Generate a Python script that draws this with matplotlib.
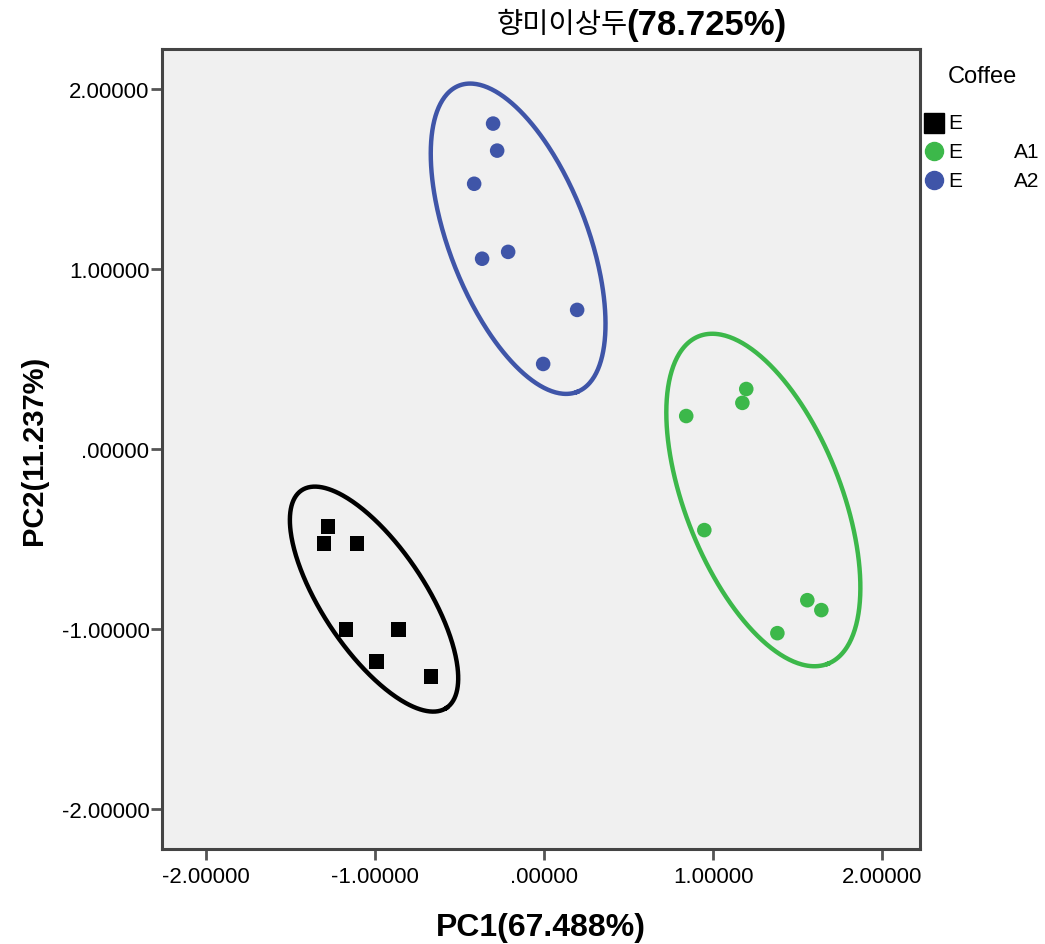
import matplotlib
matplotlib.use("Agg")
import numpy as np
import matplotlib.pyplot as plt
from matplotlib.lines import Line2D

plt.rcParams['font.family'] = ['Liberation Sans', 'Noto Sans CJK KR', 'DejaVu Sans']

# PCA scores per coffee group
e_pc1 = [-1.278, -1.302, -1.107, -1.172, -0.864, -0.994, -0.669]
e_pc2 = [-0.428, -0.522, -0.522, -1.000, -1.000, -1.178, -1.261]

a1_pc1 = [0.840, 1.195, 1.172, 0.947, 1.556, 1.639, 1.379]
a1_pc2 = [0.183, 0.333, 0.256, -0.450, -0.839, -0.894, -1.022]

a2_pc1 = [-0.302, -0.278, -0.414, -0.213, -0.367, 0.195, -0.006]
a2_pc2 = [1.806, 1.656, 1.472, 1.094, 1.056, 0.772, 0.472]

group_labels = ["E", "E", "E"]
group_suffix = ["", "A1", "A2"]
legend_title = "Coffee"

ticks = [-2, -1, 0, 1, 2]
tick_labels = ["-2.00000", "-1.00000", ".00000", "1.00000", "2.00000"]

# Confidence ellipses: centre and two semi-axis vectors (data units)
ell_e = dict(c=(-1.006, -0.833), u=(0.428, -0.604), v=(0.254, 0.158))
ell_a1 = dict(c=(1.296, -0.283), u=(0.381, -0.909), v=(0.429, 0.158))
ell_a2 = dict(c=(-0.154, 1.167), u=(0.349, -0.850), v=(0.381, 0.138))

black = "#000000"
green = "#3cb84a"
blue = "#3f55a8"

fig = plt.figure(figsize=(10.45, 9.45), dpi=100)
ax = fig.add_axes([0.155, 0.1005, 0.725, 0.8466])
ax.set_facecolor("#f0f0f0")

def draw_ellipse(e, color):
    t = np.linspace(0, 2 * np.pi, 400)
    x = e["c"][0] + np.cos(t) * e["u"][0] + np.sin(t) * e["v"][0]
    y = e["c"][1] + np.cos(t) * e["u"][1] + np.sin(t) * e["v"][1]
    ax.plot(x, y, color=color, lw=3.2, zorder=2)

draw_ellipse(ell_e, black)
draw_ellipse(ell_a1, green)
draw_ellipse(ell_a2, blue)

ax.scatter(e_pc1, e_pc2, marker="s", s=115, color=black, edgecolors="none", zorder=3)
ax.scatter(a1_pc1, a1_pc2, marker="o", s=110, color=green, edgecolors="none", zorder=3)
ax.scatter(a2_pc1, a2_pc2, marker="o", s=110, color=blue, edgecolors="none", zorder=3)

ax.set_xlim(-2.26, 2.22)
ax.set_ylim(-2.22, 2.22)
ax.set_xticks(ticks)
ax.set_xticklabels(tick_labels)
ax.set_yticks(ticks)
ax.set_yticklabels(tick_labels)
ax.tick_params(length=8, width=2, color="#555555", labelsize=16)
ax.tick_params(axis="y", pad=1)
ax.tick_params(axis="x", pad=4)
for sp in ax.spines.values():
    sp.set_linewidth(2.2)
    sp.set_color("#444444")

ax.set_xlabel("PC1(67.488%)", fontsize=23, fontweight="bold", labelpad=18)
ax.set_ylabel("PC2(11.237%)", fontsize=21, fontweight="bold", labelpad=10)

# Title: Korean part regular, percentage bold
fig.text(0.601, 0.974, "향미이상두", fontsize=20.5, ha="right", va="center",
         family=['Noto Sans CJK KR', 'DejaVu Sans'])
fig.text(0.599, 0.973, "(78.725%)", fontsize=25, fontweight="bold", ha="left", va="center")

# Legend drawn at figure level
fig.text(0.907, 0.918, legend_title, fontsize=17, ha="left", va="center")
leg_y = [0.869, 0.839, 0.808]
leg_markers = ["s", "o", "o"]
leg_colors = [black, green, blue]
for yy, mk, col, lab, suf in zip(leg_y, leg_markers, leg_colors, group_labels, group_suffix):
    fig.add_artist(Line2D([0.894], [yy], marker=mk, color=col, markersize=14 if mk == "s" else 13,
                          linestyle="none", transform=fig.transFigure))
    fig.text(0.907, yy, lab, fontsize=15, ha="left", va="center")
    if suf:
        fig.text(0.970, yy, suf, fontsize=15, ha="left", va="center")

fig.savefig("out.png", dpi=100, facecolor="white")
